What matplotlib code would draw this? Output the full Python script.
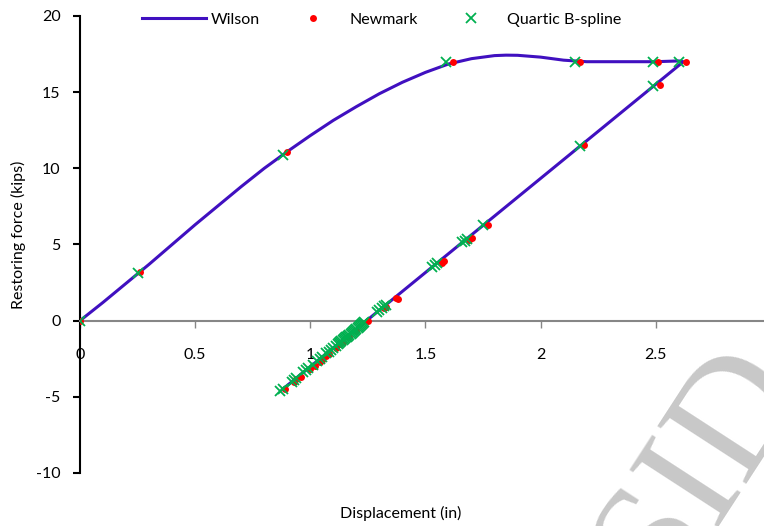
import numpy as np
import matplotlib
matplotlib.use('Agg')
import matplotlib.pyplot as plt

plt.rcParams['font.family'] = ['Lato', 'DejaVu Sans']
plt.rcParams['axes.unicode_minus'] = False

# Wilson curve: loading branch, then straight unloading branch
wilson_x = [0, 0.1, 0.2, 0.3, 0.4, 0.5, 0.6, 0.7, 0.8, 0.9, 1.0, 1.1, 1.2, 1.3, 1.4,
            1.5, 1.6, 1.7, 1.8, 1.85, 1.9, 2.0, 2.1, 2.2, 2.3, 2.4, 2.5, 2.6, 2.62, 0.88]
wilson_y = [0, 1.2, 2.45, 3.7, 5.0, 6.3, 7.55, 8.8, 10.0, 11.1, 12.15, 13.15, 14.05, 14.9, 15.65,
            16.3, 16.85, 17.2, 17.4, 17.43, 17.42, 17.3, 17.1, 17.0, 17.0, 17.0, 17.0, 17.05, 17.0, -4.5]

# Newmark points
newmark_x = [0, 0.26, 0.9, 1.62, 2.17, 2.51, 2.63,
             2.52, 2.19, 1.77, 1.70, 1.69, 1.58, 1.57, 1.38, 1.37, 1.33, 1.32, 1.25,
             1.20, 1.17, 1.14, 1.13, 1.11, 1.08, 1.07, 1.05, 1.04, 1.02, 1.0, 0.96, 0.94, 0.93, 0.89]
newmark_y = [0, 3.2, 11.1, 17.0, 17.0, 17.0, 17.0,
             15.5, 11.5, 6.3, 5.4, 5.3, 3.9, 3.8, 1.45, 1.5, 0.9, 0.8, 0.0,
             -0.65, -1.05, -1.4, -1.55, -1.8, -2.2, -2.35, -2.6, -2.7, -2.95, -3.2, -3.7, -3.85, -4.0, -4.5]

# Quartic B-spline points
bspline_x = [0, 0.25, 0.88, 1.59, 2.15, 2.49, 2.60,
             2.49, 2.17, 1.75, 1.68, 1.67, 1.66, 1.55, 1.54, 1.53,
             1.33, 1.32, 1.31, 1.30, 1.29,
             1.235, 1.23, 1.225, 1.22, 1.215, 1.21, 1.205, 1.20, 1.195, 1.19, 1.185, 1.18,
             1.175, 1.17, 1.165, 1.16, 1.155, 1.15, 1.145, 1.14, 1.135, 1.13, 1.125, 1.12,
             1.11, 1.10, 1.09, 1.08, 1.07, 1.05, 1.04, 1.03, 1.01, 0.99, 0.98, 0.97,
             0.94, 0.93, 0.92, 0.88, 0.87]
bspline_y = [0, 3.1, 10.9, 17.0, 17.0, 17.0, 17.0,
             15.4, 11.44, 6.25, 5.39, 5.26, 5.14, 3.78, 3.65, 3.53,
             1.06, 0.94, 0.81, 0.69, 0.56,
             -0.11, -0.18, -0.24, -0.30, -0.36, -0.42, -0.49, -0.55, -0.61, -0.67, -0.73, -0.80,
             -0.86, -0.92, -0.98, -1.04, -1.10, -1.17, -1.23, -1.29, -1.35, -1.41, -1.48, -1.54,
             -1.66, -1.79, -1.91, -2.03, -2.15, -2.40, -2.53, -2.65, -2.90, -3.14, -3.27, -3.39,
             -3.76, -3.89, -4.01, -4.50, -4.63]

xticks = [0, 0.5, 1, 1.5, 2, 2.5]
xticklabels = ['0', '0.5', '1', '1.5', '2', '2.5']
yticks = [-10, -5, 0, 5, 10, 15, 20]

fig = plt.figure(figsize=(7.64, 5.26), dpi=100)
ax = fig.add_axes([80/764, 1-473/526, 1-80/764, (473-16)/526])

ax.plot(wilson_x, wilson_y, color='#4010c0', lw=2.2, label='Wilson', zorder=2)
ax.plot(newmark_x, newmark_y, 'o', color='#ff0000', ms=5, mec='none', label='Newmark', zorder=3)
ax.plot(bspline_x, bspline_y, 'x', color='#00b050', ms=7.5, mew=1.3, label='Quartic B-spline', zorder=4)

ax.set_xlim(0, 2.97)
ax.set_ylim(-10, 20)

ax.spines['top'].set_visible(False)
ax.spines['right'].set_visible(False)
ax.spines['bottom'].set_position(('data', 0))
ax.spines['bottom'].set_color('#868686')
ax.spines['bottom'].set_linewidth(1.5)
ax.spines['left'].set_color('black')
ax.spines['left'].set_linewidth(1.5)

ax.set_xticks(xticks)
ax.set_xticklabels(xticklabels)
ax.set_yticks(yticks)
ax.tick_params(axis='x', direction='out', length=5, width=1, color='#868686', pad=15, labelsize=11.5)
ax.tick_params(axis='y', direction='out', length=5, width=1.5, color='black', pad=9, labelsize=11.5)

fig.text(401/764, 1-513/526, 'Displacement (in)', ha='center', va='center', fontsize=11.5)
fig.text(18/764, 1-235/526, 'Restoring force (kips)', ha='center', va='center', rotation=90, fontsize=11.5)

ax.legend(loc='center', bbox_to_anchor=(382/764, 1-20/526), bbox_transform=fig.transFigure,
          ncol=3, frameon=False, fontsize=11.5, handlelength=4.0, handletextpad=0.3,
          columnspacing=1.3)

# watermark
fig.text(700/764, 1-468/526, 'SID', fontsize=115, color='#c8c8c8', family='Liberation Serif',
         rotation=57, ha='center', va='center', zorder=0)

fig.savefig('out.png', dpi=100)
